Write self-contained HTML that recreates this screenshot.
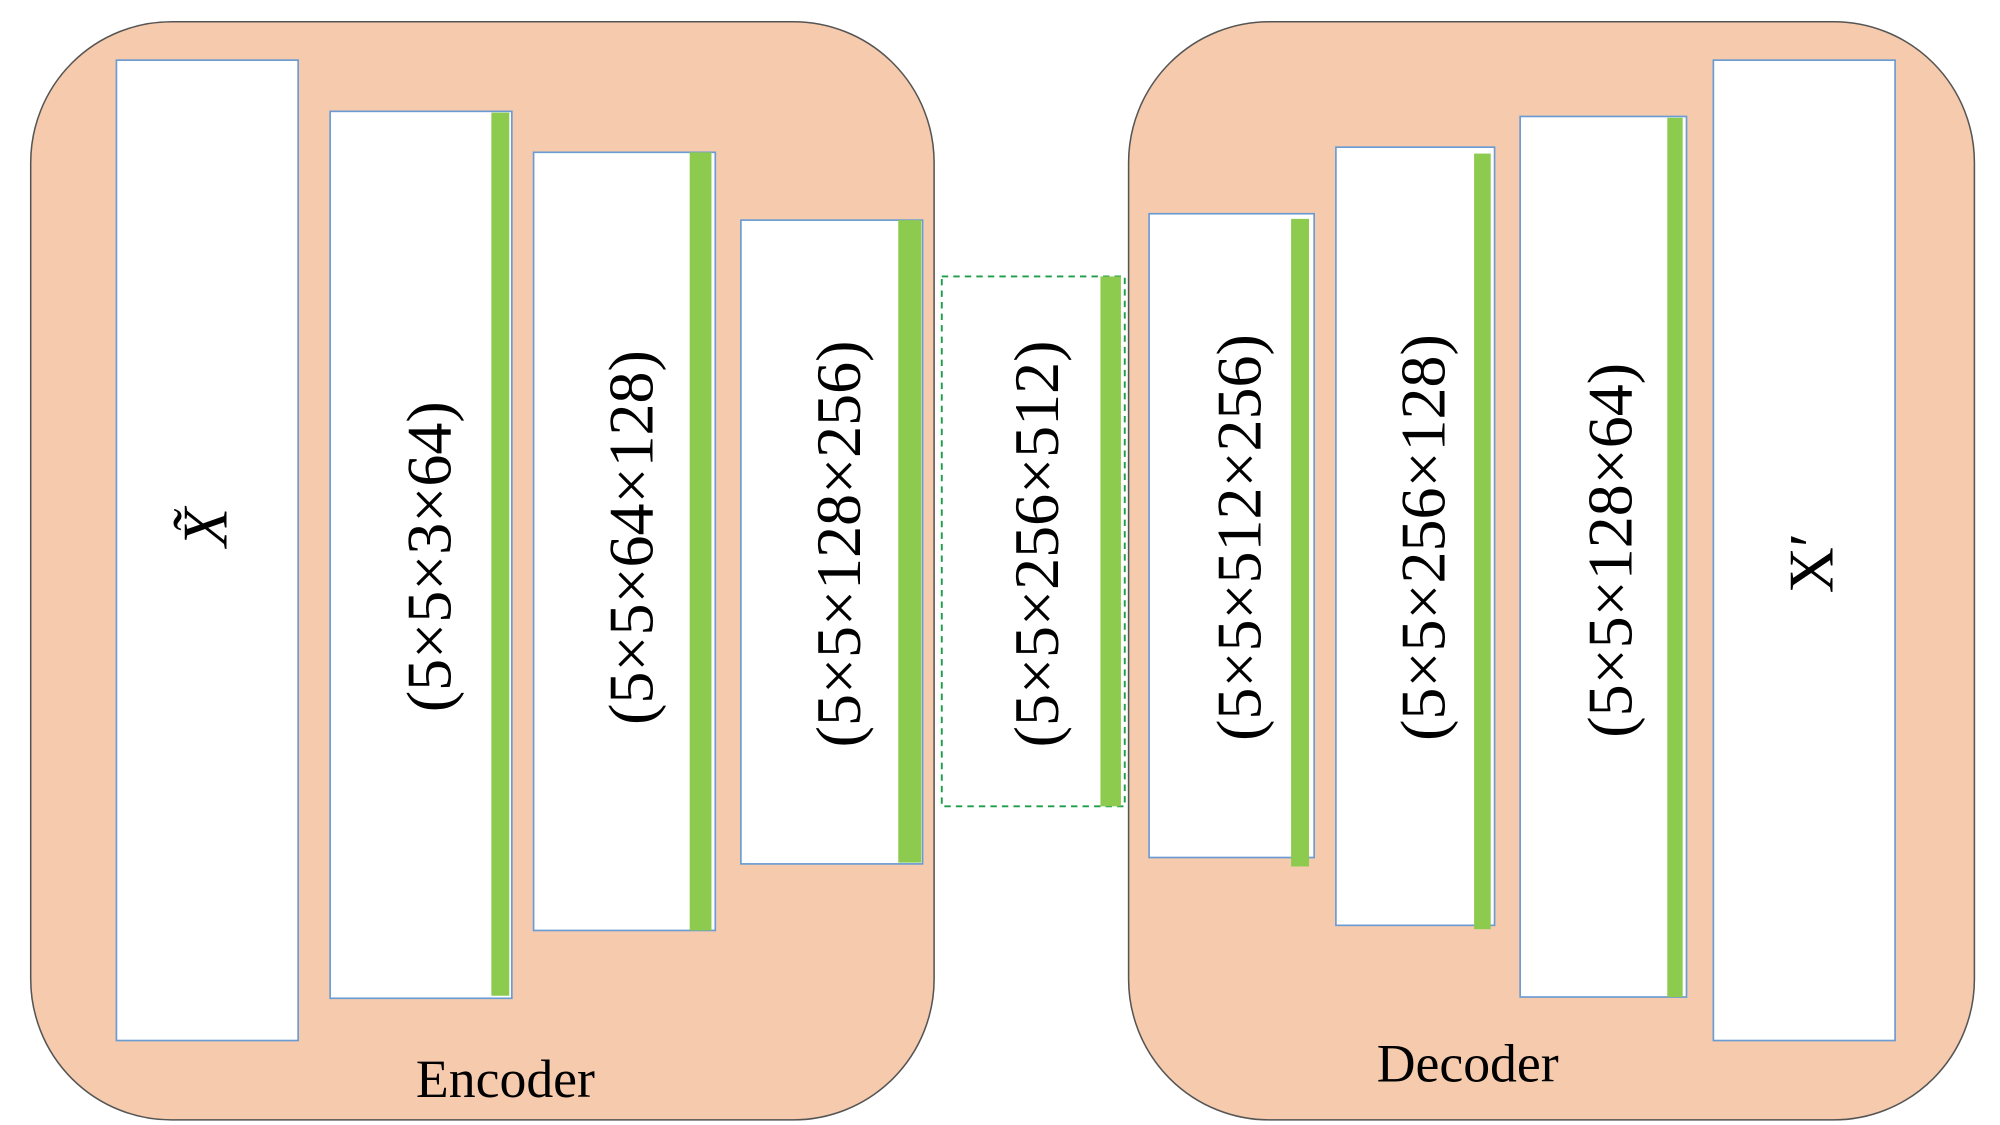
<!DOCTYPE html>
<html><head><style>html,body{margin:0;padding:0;background:#fff}svg{display:block}text{font-family:"Liberation Serif","DejaVu Serif",serif}</style></head>
<body>
<svg width="2000" height="1125" viewBox="0 0 1563 879" preserveAspectRatio="none" xmlns="http://www.w3.org/2000/svg">
<rect x="0" y="0" width="1563" height="879" fill="#fff"/>
<rect x="24" y="17" width="706" height="858" rx="110" ry="110" fill="#F6CBAD" stroke="#555" stroke-width="1.2"/>
<rect x="882" y="17" width="661" height="858" rx="110" ry="110" fill="#F6CBAD" stroke="#555" stroke-width="1.2"/>
<g fill="#fff" stroke="#6A9BD2" stroke-width="1.3">
<rect x="91" y="47" width="142" height="766"/>
<rect x="258" y="87" width="142" height="693"/>
<rect x="417" y="119" width="142" height="608"/>
<rect x="579" y="172" width="142" height="503"/>
<rect x="898" y="167" width="129" height="503"/>
<rect x="1044" y="115" width="124" height="608"/>
<rect x="1188" y="91" width="130" height="688"/>
<rect x="1339" y="47" width="142" height="766"/>
</g>
<rect x="736" y="216" width="143" height="414" fill="#fff" stroke="#1E9E4A" stroke-width="1.5" stroke-dasharray="5,4"/>
<g fill="#8CCB4E">
<rect x="384" y="88" width="14" height="690"/>
<rect x="539" y="119" width="17" height="608"/>
<rect x="702" y="172" width="18" height="502"/>
<rect x="860" y="216" width="16" height="414"/>
<rect x="1009" y="171" width="14" height="506"/>
<rect x="1152" y="120" width="13" height="606"/>
<rect x="1303" y="92" width="12" height="687"/>
</g>
<g font-size="50" text-anchor="middle" fill="#000">
<text transform="translate(335,435) rotate(-90)" dy="17">(5×5×3×64)</text>
<text transform="translate(493,420) rotate(-90)" dy="17">(5×5×64×128)</text>
<text transform="translate(655,425) rotate(-90)" dy="17">(5×5×128×256)</text>
<text transform="translate(810,425) rotate(-90)" dy="17">(5×5×256×512)</text>
<text transform="translate(968,420) rotate(-90)" dy="17">(5×5×512×256)</text>
<text transform="translate(1112,420) rotate(-90)" dy="17">(5×5×256×128)</text>
<text transform="translate(1258,430) rotate(-90)" dy="17">(5×5×128×64)</text>
<text transform="translate(160,412) rotate(-90)" dy="17" font-style="italic">X̃</text>
<text transform="translate(1415,440) rotate(-90)" dy="17">X′</text>
</g>
<text x="395" y="857" font-size="42" text-anchor="middle">Encoder</text>
<text x="1147" y="845" font-size="42" text-anchor="middle">Decoder</text>
</svg>
</body></html>
